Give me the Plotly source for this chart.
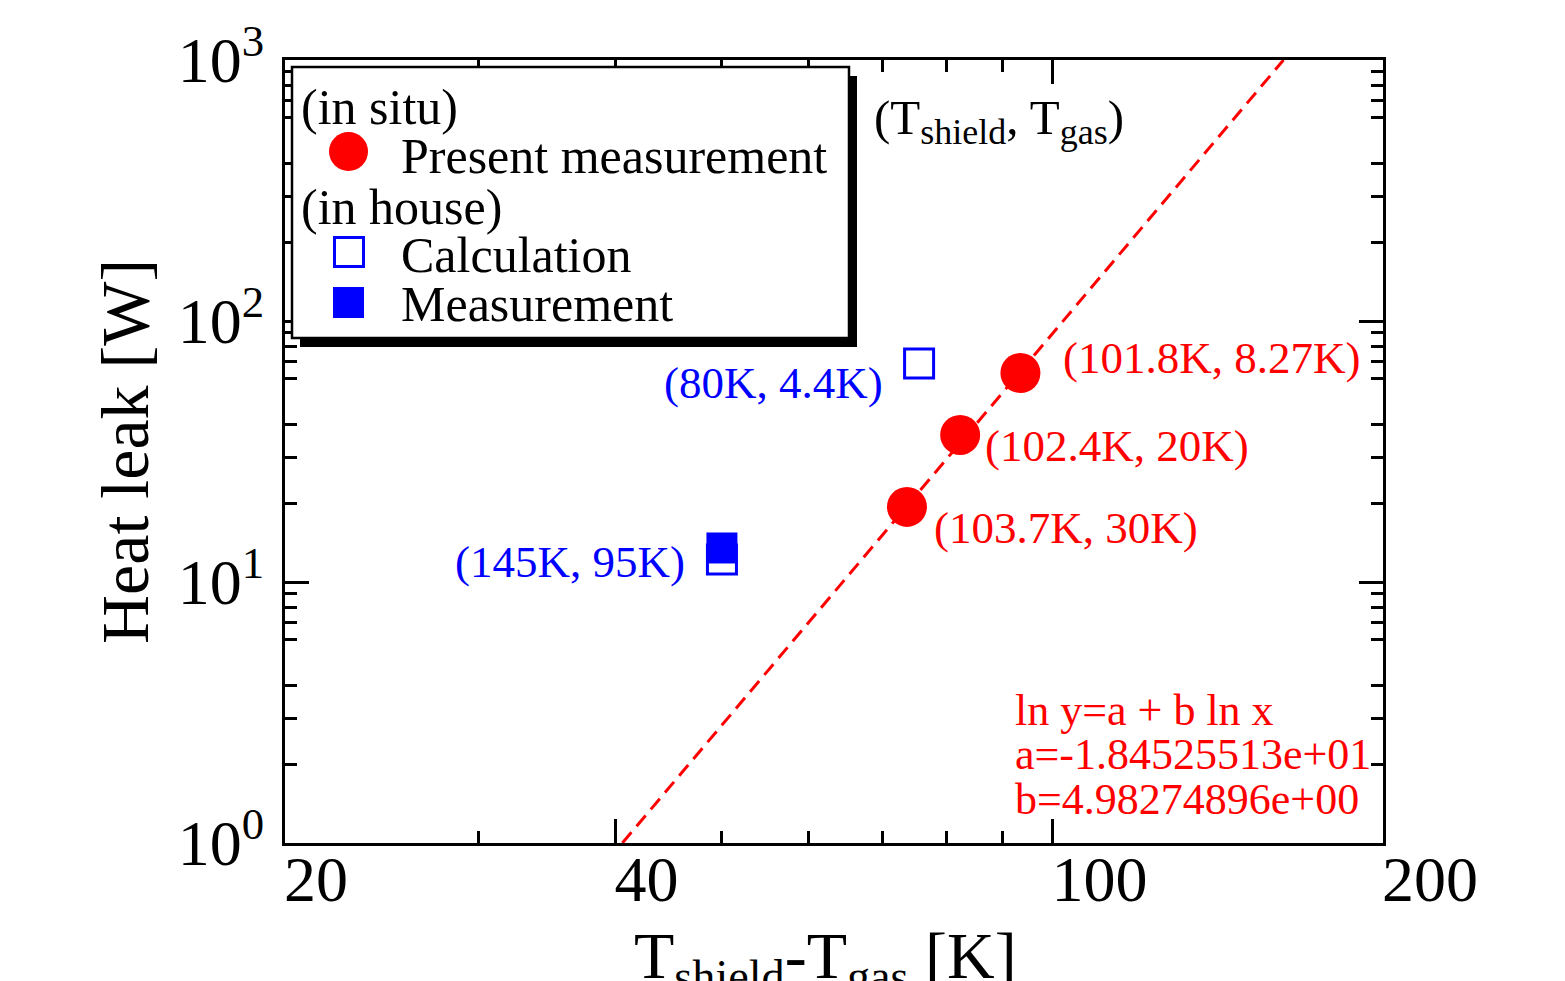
import numpy as np
import plotly.graph_objects as go

# ---------------- data ----------------
present_dT = [73.7, 82.4, 93.5]          # T_shield - T_gas [K]
present_Q = [19.4, 36.6, 63.2]           # heat leak [W]
present_labels = ["(103.7K, 30K)", "(102.4K, 20K)", "(101.8K, 8.27K)"]

calc_dT = [75.6, 50.0]
calc_Q = [68.7, 12.2]
meas_dT = [50.0]
meas_Q = [13.5]
inhouse_label_dT = [75.6, 50.0]
inhouse_label_Q = [68.7, 13.5]
inhouse_labels = ["(80K, 4.4K)", "(145K, 95K)"]

fit_a = -1.84525513e+01
fit_b = 4.98274896e+00
fit_Q = [1.0, 1000.0]

x_ticks = [20, 40, 100, 200]
x_minor = [30, 50, 60, 70, 80, 90]
y_ticks = [1, 10, 100, 1000]
y_ticktext = ["10<sup>0</sup>", "10<sup>1</sup>", "10<sup>2</sup>", "10<sup>3</sup>"]
y_half = [5, 50, 500]
y_minor = [2, 3, 4, 6, 7, 8, 9, 20, 30, 40, 60, 70, 80, 90,
           200, 300, 400, 600, 700, 800, 900]

# fit line endpoints from ln y = a + b ln x
fit_dT = [float(np.exp((np.log(q) - fit_a) / fit_b)) for q in fit_Q]

FONT = "Liberation Serif"
W, H = 1565, 981
L, R, T, B = 285, 182, 60, 138
PW, PH = W - L - R, H - T - B


def px(xp):
    return (xp - L) / PW


def py(yp):
    return (H - B - yp) / PH


fig = go.Figure()

fig.add_trace(go.Scatter(
    x=fit_dT, y=fit_Q, mode="lines", name="fit",
    line=dict(color="red", width=3, dash="14px,8px"), showlegend=False))

fig.add_trace(go.Scatter(
    x=calc_dT, y=calc_Q, mode="markers", name="Calculation",
    marker=dict(symbol="square-open", size=29, color="blue",
                line=dict(color="blue", width=3)), showlegend=False))

fig.add_trace(go.Scatter(
    x=meas_dT, y=meas_Q, mode="markers", name="Measurement",
    marker=dict(symbol="square", size=31, color="blue", line=dict(width=0)),
    showlegend=False))

fig.add_trace(go.Scatter(
    x=present_dT, y=present_Q, mode="markers", name="Present measurement",
    marker=dict(symbol="circle", size=40, color="red", line=dict(width=0)),
    showlegend=False))

annotations = []
# red point labels
red_shift = [(25, -21), (23, -11), (41, 15)]
for xv, yv, t, (dx, dy) in zip(present_dT, present_Q, present_labels, red_shift):
    annotations.append(dict(
        x=np.log10(xv), y=np.log10(yv), xref="x", yref="y", text=t,
        showarrow=False, xanchor="left", yanchor="middle", xshift=dx, yshift=dy,
        font=dict(family=FONT, size=45, color="red")))
blue_shift = [(-34, -19), (-35, -14)]
for xv, yv, t, (dx, dy) in zip(inhouse_label_dT, inhouse_label_Q, inhouse_labels, blue_shift):
    annotations.append(dict(
        x=np.log10(xv), y=np.log10(yv), xref="x", yref="y", text=t,
        showarrow=False, xanchor="right", yanchor="middle", xshift=dx, yshift=dy,
        font=dict(family=FONT, size=45, color="blue")))

# (T_shield, T_gas) note
annotations.append(dict(
    x=px(872), y=py(121), xref="paper", yref="paper",
    text="(T<sub><span style='font-size:36px'>shield</span></sub>, "
         "T<sub><span style='font-size:36px'>gas</span></sub>)",
    showarrow=False, xanchor="left", yanchor="middle",
    font=dict(family=FONT, size=49, color="black")))

# x-axis title (placed low, partly cut by the page edge as in the original)
annotations.append(dict(
    x=px(825), y=py(917), xref="paper", yref="paper",
    text="T<sub>shield</sub>-T<sub>gas</sub> [K]",
    showarrow=False, xanchor="center", yanchor="top",
    font=dict(family=FONT, size=66, color="black")))

# fit text
fit_lines = ["ln y=a + b ln x", "a=-1.84525513e+01", "b=4.98274896e+00"]
fit_y = [710, 754, 799]
for t, yy in zip(fit_lines, fit_y):
    annotations.append(dict(
        x=px(1013), y=py(yy), xref="paper", yref="paper", text=t,
        showarrow=False, xanchor="left", yanchor="middle",
        font=dict(family=FONT, size=44, color="red")))

# legend (drawn manually)
legend_rows = [("(in situ)", 299, 107), ("Present measurement", 399, 156),
               ("(in house)", 299, 207), ("Calculation", 399, 255),
               ("Measurement", 399, 304)]
for t, xx, yy in legend_rows:
    annotations.append(dict(
        x=px(xx), y=py(yy), xref="paper", yref="paper", text=t,
        showarrow=False, xanchor="left", yanchor="middle",
        font=dict(family=FONT, size=50, color="black")))

shapes = [
    dict(type="rect", xref="paper", yref="paper", x0=px(300), x1=px(857),
         y0=py(347), y1=py(76), fillcolor="black", line=dict(width=0), layer="above"),
    dict(type="rect", xref="paper", yref="paper", x0=px(292), x1=px(849),
         y0=py(338), y1=py(67), fillcolor="white",
         line=dict(color="black", width=2.5), layer="above"),
    dict(type="circle", xref="paper", yref="paper", x0=px(329), x1=px(368),
         y0=py(171), y1=py(132), fillcolor="red", line=dict(width=0), layer="above"),
    dict(type="rect", xref="paper", yref="paper", x0=px(334.5), x1=px(363.5),
         y0=py(266.5), y1=py(237.5), fillcolor="white",
         line=dict(color="blue", width=3), layer="above"),
    dict(type="rect", xref="paper", yref="paper", x0=px(333), x1=px(364),
         y0=py(318), y1=py(287), fillcolor="blue", line=dict(width=0), layer="above"),
]

axis_common = dict(
    type="log", ticks="inside", ticklen=24, tickwidth=3, tickcolor="black",
    showline=True, linewidth=3, linecolor="black", mirror="ticks",
    showgrid=False, zeroline=False, automargin=False,
)

fig.update_layout(
    width=W, height=H,
    margin=dict(l=L, r=R, t=T, b=B, pad=0),
    paper_bgcolor="white", plot_bgcolor="white",
    font=dict(family=FONT, color="black"),
    showlegend=False,
    xaxis=dict(
        **axis_common,
        range=[np.log10(20), np.log10(200)],
        tickvals=x_ticks, ticktext=[str(v) for v in x_ticks],
        tickfont=dict(family=FONT, size=64, color="black"),
        ticklabelposition="outside right", ticklabeloverflow="allow",
        ticklabelstandoff=-22, ticklabelshift=-4,
        minor=dict(tickvals=x_minor, ticks="inside", ticklen=12, tickwidth=3,
                   tickcolor="black", showgrid=False),
    ),
    yaxis=dict(
        **axis_common,
        range=[0, 3],
        tickvals=y_ticks, ticktext=y_ticktext,
        tickfont=dict(family=FONT, size=64, color="black"),
        ticklabelstandoff=5,
        minor=dict(tickvals=y_minor, ticks="inside", ticklen=12, tickwidth=3,
                   tickcolor="black", showgrid=False),
        title=dict(text="Heat leak [W]",
                   font=dict(family=FONT, size=68, color="black"), standoff=7),
    ),
    yaxis2=dict(
        type="log", range=[0, 3], overlaying="y", anchor="x", side="left",
        tickvals=y_half, ticks="inside", ticklen=24, tickwidth=3, tickcolor="black",
        showticklabels=False, showline=False, mirror="ticks",
        showgrid=False, zeroline=False, automargin=False,
    ),
    annotations=annotations,
    shapes=shapes,
)

fig.write_html("out.html")
